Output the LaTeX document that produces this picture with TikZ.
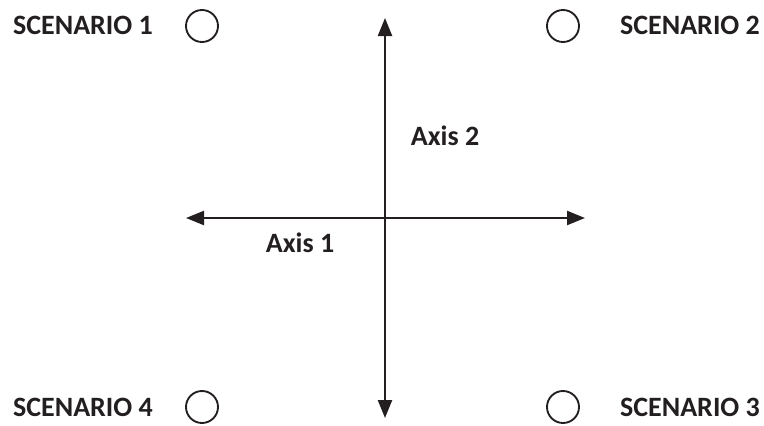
\documentclass[tikz,border=0pt]{standalone}
\usepackage{fontspec}
\setmainfont{Carlito}
\usetikzlibrary{arrows.meta}
\definecolor{ink}{HTML}{231F20}

\begin{document}
\begin{tikzpicture}[x=0.75pt, y=-0.75pt,
	axis/.style={line width=1.7pt, color=ink, {Triangle[length=13.5pt, width=10.5pt]}-{Triangle[length=13.5pt, width=10.5pt]}},
	scen/.style={circle, draw=ink, line width=1.4pt, minimum size=24pt, inner sep=0pt},
	lab/.style={text=ink, font=\fontsize{21}{24}\selectfont\bfseries, inner sep=0pt}]
	\useasboundingbox (0,0) rectangle (764,425);
	% axis end points
	\coordinate (north) at (385,18);
	\coordinate (south) at (385,418);
	\coordinate (west) at (186,218);
	\coordinate (east) at (585,218);
	% the two axes
	\draw[axis] (west) -- (east);
	\draw[axis] (south) -- (north);
	\node[lab] (axisone) at (300,243) {Axis 1};
	\node[lab] (axistwo) at (445,136) {Axis 2};
	% scenario markers
	\node[scen] (s1) at (202,26) {};
	\node[scen] (s2) at (563,26) {};
	\node[scen] (s3) at (563,407) {};
	\node[scen] (s4) at (202,407) {};
	% scenario labels
	\node[lab] (l1) at (83,25) {SCENARIO 1};
	\node[lab] (l2) at (690,25) {SCENARIO 2};
	\node[lab] (l3) at (690,407) {SCENARIO 3};
	\node[lab] (l4) at (83,407) {SCENARIO 4};
\end{tikzpicture}
\end{document}
